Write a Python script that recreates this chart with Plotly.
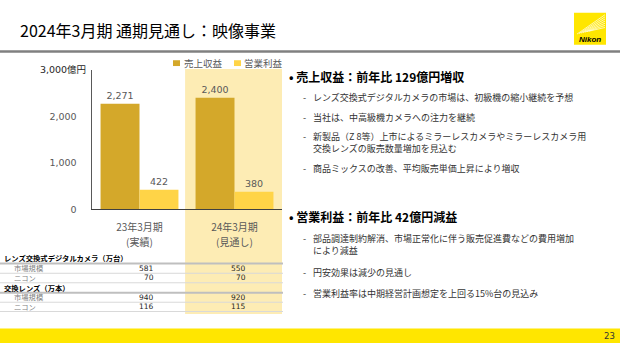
import plotly.graph_objects as go

W, H = 620, 348


def px(x):
    return x / W


def py(y):
    return 1 - y / H


# ---------------- data ----------------
categories = ["23年3月期", "24年3月期"]
category_notes = ["(実績)", "(見通し)"]
series_names = ["売上収益", "営業利益"]
revenue = [2271, 2400]
op_profit = [422, 380]
y_tickvals = [0, 1000, 2000, 3000]
y_ticktext = ["0", "1,000", "2,000", "3,000億円"]

table_sections = ["レンズ交換式デジタルカメラ（万台）", "交換レンズ（万本）"]
table_rowlabels = ["市場規模", "ニコン"]
camera_market = [581, 550]
camera_nikon = [70, 70]
lens_market = [940, 920]
lens_nikon = [116, 115]

title_text = "2024年3月期 通期見通し：映像事業"
bullet1 = "売上収益：前年比 129億円増収"
bullet1_items = [
    ["レンズ交換式デジタルカメラの市場は、初級機の縮小継続を予想"],
    ["当社は、中高級機カメラへの注力を継続"],
    ["新製品（Z 8等）上市によるミラーレスカメラやミラーレスカメラ用", "交換レンズの販売数量増加を見込む"],
    ["商品ミックスの改善、平均販売単価上昇により増収"],
]
bullet2 = "営業利益：前年比 42億円減益"
bullet2_items = [
    ["部品調達制約解消、市場正常化に伴う販売促進費などの費用増加", "により減益"],
    ["円安効果は減少の見通し"],
    ["営業利益率は中期経営計画想定を上回る15%台の見込み"],
]
page_number = "23"

# ---------------- style ----------------
C_REV = "#D4A82A"
C_OP = "#FFD447"
C_BAND = "#FDECB4"
C_YELLOW = "#FFE600"
GRAY = "#595959"
JP = "Noto Sans CJK JP"
NUM = "DejaVu Sans, Noto Sans CJK JP"

fig = go.Figure()
for name, vals, col in [(series_names[0], revenue, C_REV), (series_names[1], op_profit, C_OP)]:
    fig.add_trace(go.Bar(
        x=categories, y=vals, name=name, marker_color=col, marker_line_width=0,
        text=[f"{v:,}" for v in vals], textposition="outside",
        textfont=dict(family=NUM, size=9.5, color=GRAY), cliponaxis=False,
    ))

shapes = []
annotations = []

# highlight band for forecast column
shapes.append(dict(type="rect", xref="x", yref="paper", x0=0.48, x1=1.5,
                   y0=py(318), y1=py(65), fillcolor=C_BAND, line_width=0, layer="below"))

# header line
shapes.append(dict(type="line", xref="paper", yref="paper", x0=0, x1=1,
                   y0=py(47), y1=py(47), line=dict(color="#808080", width=2.5)))
# footer bar
shapes.append(dict(type="rect", xref="paper", yref="paper", x0=0, x1=1,
                   y0=py(348), y1=py(333), fillcolor=C_YELLOW, line_width=0))
# Nikon logo
lx0, lx1, ly0, ly1 = 574, 606, 7, 40
shapes.append(dict(type="rect", xref="paper", yref="paper", x0=px(lx0), x1=px(lx1),
                   y0=py(ly1), y1=py(ly0), fillcolor=C_YELLOW, line_width=0))
for i in range(7):
    shapes.append(dict(type="line", xref="paper", yref="paper",
                       x0=px(577 + i * 2), y0=py(29 - i * 0.5),
                       x1=px(605), y1=py(9 + i * 2.2),
                       line=dict(color="rgba(255,255,255,0.85)", width=0.8)))
annotations.append(dict(x=px(590), y=py(34.5), xref="paper", yref="paper", text="<b><i>Nikon</i></b>",
                        showarrow=False, font=dict(family="Liberation Sans", size=8, color="#000"),
                        xanchor="center", yanchor="middle", borderpad=0))

# title
annotations.append(dict(x=px(18), y=py(25), xref="paper", yref="paper", text=title_text,
                        showarrow=False, font=dict(family=JP, size=16, color="#000"),
                        xanchor="left", yanchor="middle"))

# legend (swatches + labels)
for sx, tx, name, col in [(173, 183, series_names[0], C_REV), (234, 243, series_names[1], C_OP)]:
    shapes.append(dict(type="rect", xref="paper", yref="paper", x0=px(sx), x1=px(sx + 7),
                       y0=py(62), y1=py(56), fillcolor=col, line_width=0))
    annotations.append(dict(x=px(tx), y=py(59), xref="paper", yref="paper", text=name,
                            showarrow=False, font=dict(family=JP, size=9.5, color=GRAY),
                            xanchor="left", yanchor="middle", borderpad=0))

# category second lines
for cat, note in zip(categories, category_notes):
    annotations.append(dict(x=cat, xref="x", y=py(243), yref="paper", text=note,
                            showarrow=False, font=dict(family=JP, size=10, color=GRAY),
                            xanchor="center", yanchor="middle", borderpad=0))

# table
rows = [
    ("section", table_sections[0], None),
    ("row", table_rowlabels[0], camera_market),
    ("row", table_rowlabels[1], camera_nikon),
    ("section", table_sections[1], None),
    ("row", table_rowlabels[0], lens_market),
    ("row", table_rowlabels[1], lens_nikon),
]
row_y = [260.3, 271, 280.8, 291.3, 301, 310.7]
line_y = [266, 276, 285.8, 296, 305.9, 315.5]
for (kind, label, vals), ry, ly in zip(rows, row_y, line_y):
    if kind == "section":
        annotations.append(dict(x=px(3), y=py(ry), xref="paper", yref="paper", text=f"<b>{label}</b>",
                                showarrow=False, font=dict(family=JP, size=7.3, color="#000"),
                                xanchor="left", yanchor="middle", borderpad=0))
        shapes.append(dict(type="line", xref="paper", yref="paper", x0=0, x1=px(283),
                           y0=py(ly), y1=py(ly), line=dict(color="#BFBFBF", width=2)))
    else:
        annotations.append(dict(x=px(13), y=py(ry), xref="paper", yref="paper", text=label,
                                showarrow=False, font=dict(family=JP, size=7.3, color="#7F7F7F"),
                                xanchor="left", yanchor="middle", borderpad=0))
        for v, rx in zip(vals, [155, 247]):
            annotations.append(dict(x=px(rx), y=py(ry), xref="paper", yref="paper", text=f"{v:,}",
                                    showarrow=False, font=dict(family=NUM, size=7.5, color="#262626"),
                                    xanchor="right", yanchor="middle", borderpad=0))
        shapes.append(dict(type="line", xref="paper", yref="paper", x0=0, x1=px(283),
                           y0=py(ly), y1=py(ly), line=dict(color="#D9D9D9", width=1)))


# right-hand text
def add_bullets(head, head_y, items, item_ys):
    annotations.append(dict(x=px(287), y=py(head_y), xref="paper", yref="paper",
                            text=f"<b>• {head}</b>", showarrow=False,
                            font=dict(family=JP, size=12, color="#000"),
                            xanchor="left", yanchor="middle"))
    for lines, ys in zip(items, item_ys):
        annotations.append(dict(x=px(302), y=py(ys[0]), xref="paper", yref="paper", text="-",
                                showarrow=False, font=dict(family=JP, size=9, color="#333"),
                                xanchor="left", yanchor="middle", borderpad=0))
        for line, y in zip(lines, ys):
            annotations.append(dict(x=px(312), y=py(y), xref="paper", yref="paper", text=line,
                                    showarrow=False, font=dict(family=JP, size=9, color="#333"),
                                    xanchor="left", yanchor="middle", borderpad=0))


add_bullets(bullet1, 73, bullet1_items, [[94], [115], [135, 147], [168]])
add_bullets(bullet2, 217, bullet2_items, [[240, 252], [275], [297]])

annotations.append(dict(x=px(616), y=py(341), xref="paper", yref="paper", text=page_number,
                        showarrow=False, font=dict(family=NUM, size=8.5, color="#333"),
                        xanchor="right", yanchor="middle", borderpad=0))

y_labels = [t + "\u2003" for t in y_ticktext[:-1]] + [f"<span style='color:#262626'>{y_ticktext[-1]}</span>"]

fig.update_layout(
    width=W, height=H, margin=dict(l=0, r=0, t=0, b=0),
    paper_bgcolor="white", plot_bgcolor="rgba(0,0,0,0)",
    showlegend=False, barmode="group", bargap=0.18, bargroupgap=0,
    shapes=shapes, annotations=annotations,
    xaxis=dict(domain=[px(92), px(282)], range=[-0.5, 1.5], showline=True, linecolor="#404040",
               linewidth=1, ticks="", showgrid=False, zeroline=False, ticklabelstandoff=9,
               tickfont=dict(family=JP, size=10, color=GRAY), fixedrange=True),
    yaxis=dict(domain=[py(210), py(66)], range=[0, 3000], showline=True, linecolor="#595959",
               linewidth=1, ticks="", showgrid=False, zeroline=False,
               tickvals=y_tickvals, ticktext=y_labels, ticklabelstandoff=3,
               tickfont=dict(family=NUM, size=9.5, color=GRAY), fixedrange=True),
)

fig.write_html("out.html")
